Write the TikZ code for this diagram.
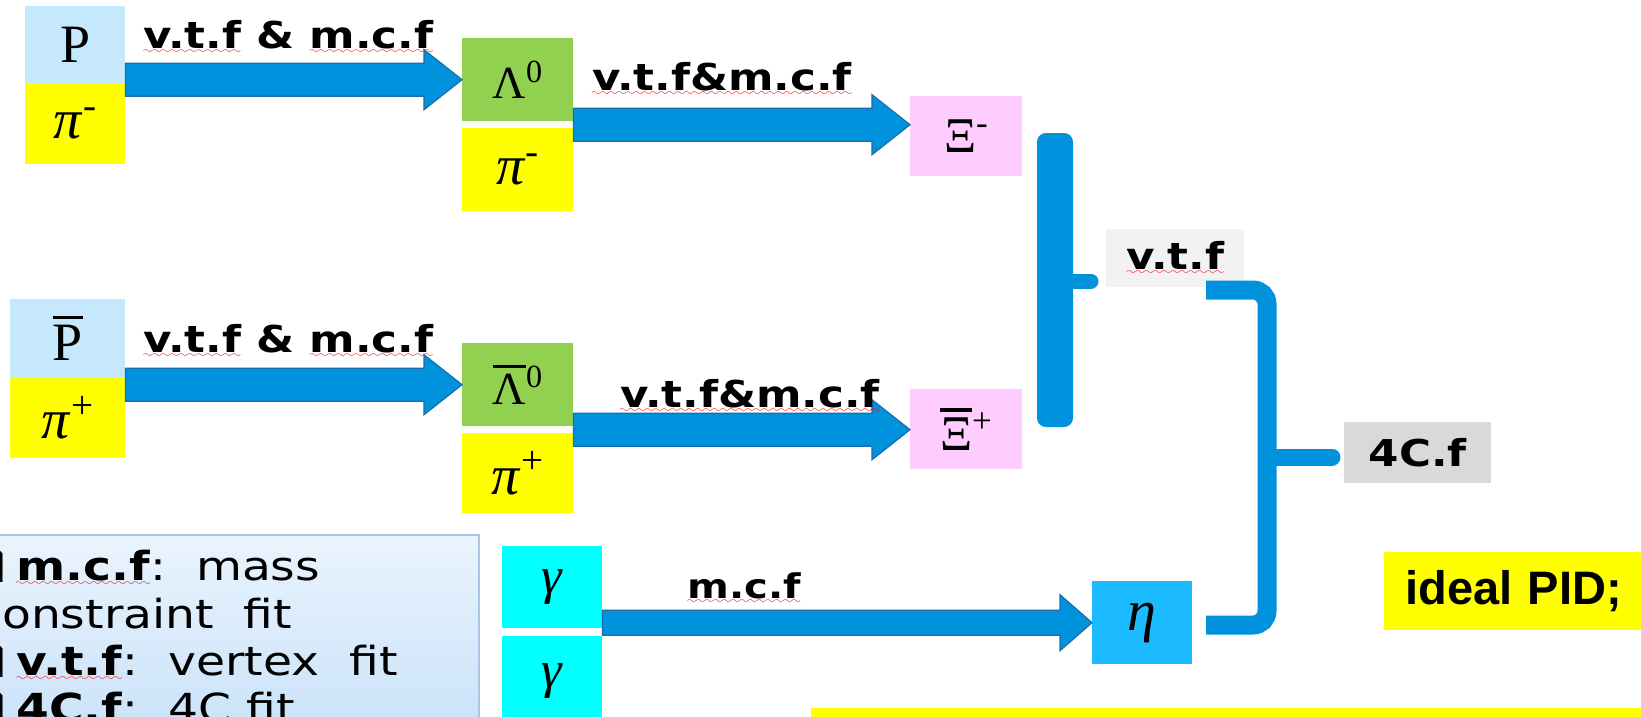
\RequirePackage{fix-cm}
\documentclass[tikz,border=0pt]{standalone}
\usepackage{fontspec}
\usetikzlibrary{calc}
\newfontfamily\lblfont[FakeStretch=1.18]{DejaVu Sans}
\newfontfamily\arialfont{Liberation Sans}
\newfontfamily\partfont{Liberation Serif}
\newfontfamily\symfont[FakeStretch=1.18]{DejaVu Sans}
\font\spellwave=lasy6 at 10pt
\newsavebox\spellbox
\newcommand\spell[1]{\sbox\spellbox{#1}\rlap{\textcolor{red}{\lower5pt\hbox{\hbox to\wd\spellbox{\xleaders\hbox{\spellwave\char58}\hfil}}}}\usebox\spellbox}
\newcommand\barred[1]{\leavevmode\vbox{\hrule height 3.5pt\kern 6pt\hbox{#1}}}
\definecolor{pblue}{RGB}{198,232,252}
\definecolor{lgreen}{RGB}{146,208,80}
\definecolor{xpink}{RGB}{255,204,255}
\definecolor{gcyan}{RGB}{0,255,255}
\definecolor{etablue}{RGB}{28,187,255}
\definecolor{arrowblue}{RGB}{0,146,221}
\definecolor{arrowedge}{RGB}{22,110,170}
\definecolor{braceblue}{RGB}{0,146,221}
\definecolor{vtfgray}{RGB}{242,242,242}
\definecolor{fcgray}{RGB}{217,217,217}
\definecolor{legtop}{RGB}{234,244,253}
\definecolor{legbot}{RGB}{196,223,248}
\definecolor{legedge}{RGB}{170,198,230}
\definecolor{pidyellow}{RGB}{255,255,0}

\begin{document}
\begin{tikzpicture}
[
x=1pt, y=-1pt,
part/.style={inner sep=0pt, anchor=north west, minimum width=111, minimum height=83, fill=#1},
partfont/.style={font=\partfont\fontsize{#1}{#1}\selectfont},
fat arrow/.style n args={3}{to path={let \p1=(\tikztostart), \p2=(\tikztotarget) in
  (\x1,\y1+#1) -- (\x2-#3,\y1+#1) -- (\x2-#3,\y1+#2) -- (\x2,\y1)
  -- (\x2-#3,\y1-#2) -- (\x2-#3,\y1-#1) -- (\x1,\y1-#1) -- cycle}},
big arrow/.style={fat arrow={16.5pt}{30pt}{38pt}, fill=arrowblue, draw=arrowedge, line width=1.2pt},
fitlabel/.style={inner sep=0pt, anchor=base west, font=\lblfont\bfseries\fontsize{37}{40}\selectfont},
fitbox/.style={inner sep=0pt, anchor=north west, fill=#1, font=\lblfont\bfseries\fontsize{37}{40}\selectfont},
legline/.style={inner sep=0pt, anchor=base west, font=\lblfont\fontsize{40}{47}\selectfont},
]
\useasboundingbox (0,0) rectangle (1641,716);
\clip (0,0) rectangle (1641,716);
\fill[white] (0,0) rectangle (1641,716);

%Place the nodes
\node[part=pblue, minimum width=100, minimum height=77, partfont=54] (p) at (25,6) {P};
\node[part=pidyellow, minimum width=100, minimum height=81, partfont=56] (pim) at (25,83) {\textit{π}\textsuperscript{-}};
\node[part=pblue, minimum width=115, minimum height=78, partfont=54] (pbar) at (10,299) {\barred{P}};
\node[part=pidyellow, minimum width=115, minimum height=81, partfont=56] (pip) at (10,377) {\textit{π}\textsuperscript{+}};
\node[part=lgreen, partfont=46] (lam) at (462,38) {Λ\textsuperscript{0}};
\node[part=pidyellow, partfont=56] (lampim) at (462,128) {\textit{π}\textsuperscript{-}};
\node[part=lgreen, partfont=46] (lambar) at (462,343) {\barred{Λ}\textsuperscript{0}};
\node[part=pidyellow, minimum height=80, partfont=56] (lampip) at (462,433) {\textit{π}\textsuperscript{+}};
\node[part=xpink, minimum width=112, minimum height=80, partfont=50] (xim) at (910,96) {Ξ\textsuperscript{-}};
\node[part=xpink, minimum width=112, minimum height=80, partfont=50] (xip) at (910,389) {\barred{Ξ}\textsuperscript{+}};
\node[part=gcyan, minimum width=100, minimum height=82, partfont=52] (ga) at (502,546) {\textit{γ}};
\node[part=gcyan, minimum width=100, minimum height=90, partfont=52] (gb) at (502,636) {\textit{γ}};
\node[part=etablue, minimum width=100, partfont=58] (eta) at (1092,581) {\textit{η}};
\node[fitbox=vtfgray, minimum width=138, minimum height=58] (vtf) at (1106,229) {\spell{v.t.f}};
\node[fitbox=fcgray, minimum width=147, minimum height=61] (fourc) at (1344,422) {4C.f};
\node[fill=pidyellow, anchor=north west, inner xsep=21pt, inner ysep=0pt, minimum height=78,
      text width=250, align=left, font=\arialfont\bfseries\fontsize{47}{50}\selectfont] (ideal) at (1384,552) {ideal PID;};
\node[fill=pidyellow, anchor=north west, inner sep=0pt, minimum width=850, minimum height=30] (note) at (811,708) {};

%Legend
\node[anchor=north west, inner sep=0pt, minimum width=488, minimum height=230,
      top color=legtop, bottom color=legbot, draw=legedge, line width=1.5pt] (legend) at (-10,534) {};
\node[legline] (leg1) at (16,580) {\llap{\symfont ❑\hspace{10pt}}\spell{\textbf{m.c.f}}:\ \ mass};
\node[legline] (leg2) at (-24,628) {constraint\ \ fit};
\node[legline] (leg3) at (16,675) {\llap{\symfont ❑\hspace{10pt}}\spell{\textbf{v.t.f}}:\ \ vertex\ \ fit};
\node[legline] (leg4) at (16,722) {\llap{\symfont ❑\hspace{10pt}}\textbf{4C.f}:\ \ 4C fit};

%Draw the connections
\coordinate (ua) at ($(lam.south east)!.5!(lampim.north east)$);
\coordinate (ub) at ($(lambar.south east)!.5!(lampip.north east)$);
\draw[big arrow] (p.east |- lam.west) to (lam.west);
\draw[big arrow] (ua) to (ua -| xim.west);
\draw[big arrow] (pbar.east |- lambar.west) to (lambar.west);
\draw[big arrow] (ub) to (ub -| xip.west);
\draw[big arrow, fat arrow={12.5pt}{28pt}{32pt}] (ga.east |- eta.west) to (eta.west);

%Brackets
\fill[braceblue, rounded corners=9pt] (1037,133) rectangle (1073,427);
\draw[braceblue, line width=15pt, line cap=round] (1070,281) -- (1091,281);
\draw[braceblue, line width=19pt, rounded corners=14pt] (1206,290) -- (1267,290) -- (1267,625) -- (1206,625);
\draw[braceblue, line width=17pt, line cap=round] (1267,457) -- (1332,457);

%Fit labels
\node[fitlabel] (lab1) at (143,48) {\spell{v.t.f} \& \spell{m.c.f}};
\node[fitlabel] (lab2) at (592,90) {\spell{v.t.f\&m.c.f}};
\node[fitlabel] (lab3) at (143,352) {\spell{v.t.f} \& \spell{m.c.f}};
\node[fitlabel] (lab4) at (620,407) {\spell{v.t.f\&m.c.f}};
\node[fitlabel, font=\lblfont\bfseries\fontsize{34}{40}\selectfont] (lab5) at (687,598) {\spell{m.c.f}};
\end{tikzpicture}
\end{document}
